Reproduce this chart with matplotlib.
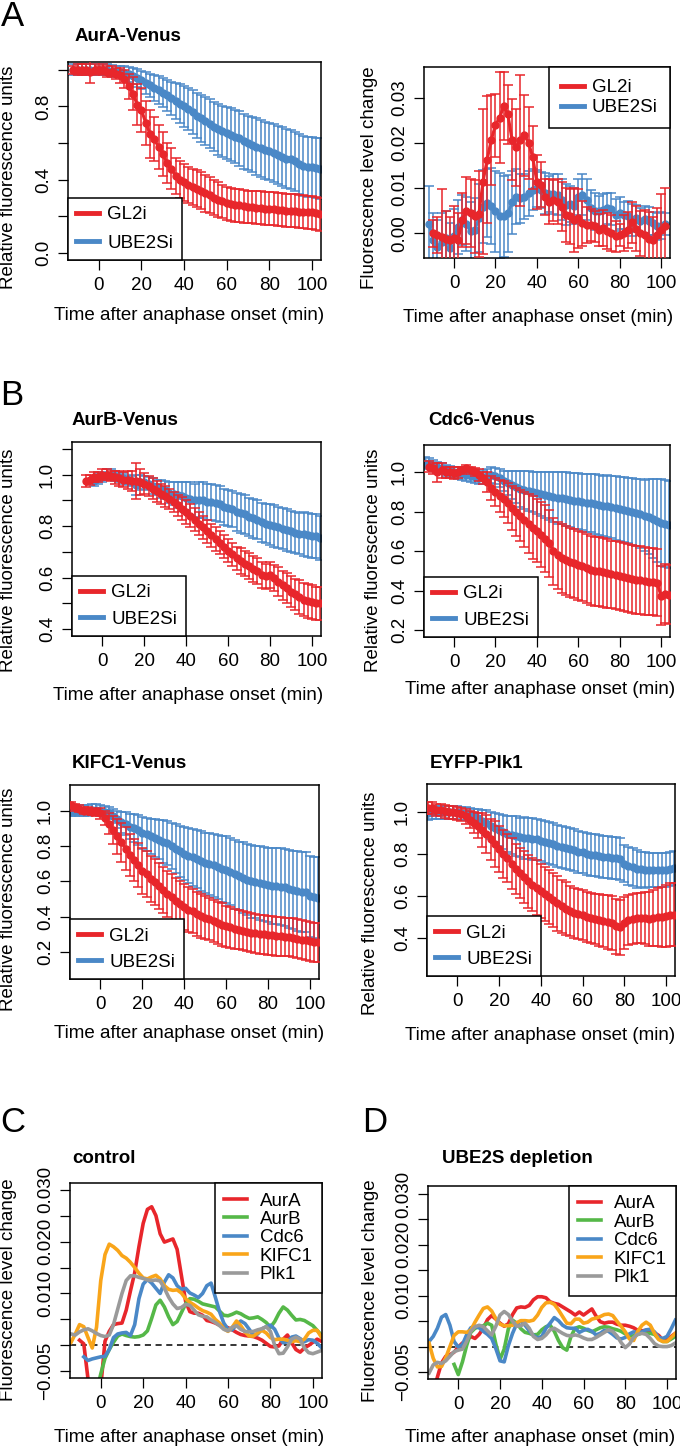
import numpy as np
import matplotlib
matplotlib.use('Agg')
import matplotlib.pyplot as plt
from matplotlib.lines import Line2D

plt.rcParams['font.family'] = ['Liberation Sans', 'DejaVu Sans']

RED = '#E8262B'
BLUE = '#4A88C7'
GREEN = '#55B848'
ORANGE = '#F9A51A'
GRAY = '#9A9A9A'

# ---- panel A, left: AurA-Venus (relative fluorescence) ----
t_aura = np.arange(-12, 106, 2)
aura_gl2 = [1.00, 1.00, 1.00, 1.00, 0.99, 1.00, 1.00, 1.00, 0.99, 0.99,
            0.98, 0.97, 0.95, 0.91, 0.87, 0.81, 0.78, 0.71, 0.65, 0.62,
            0.58, 0.54, 0.49, 0.46, 0.42, 0.40, 0.385, 0.37, 0.36, 0.35,
            0.34, 0.325, 0.315, 0.30, 0.29, 0.28, 0.27, 0.265, 0.26, 0.26,
            0.255, 0.25, 0.25, 0.245, 0.245, 0.24, 0.24, 0.24, 0.235, 0.235,
            0.23, 0.23, 0.23, 0.225, 0.225, 0.22, 0.22, 0.215, 0.21]
aura_gl2_err = [0.02, 0.03, 0.03, 0.03, 0.06, 0.03, 0.02, 0.03, 0.03, 0.03,
                0.03, 0.04, 0.05, 0.07, 0.09, 0.11, 0.12, 0.12, 0.13, 0.12,
                0.12, 0.12, 0.11, 0.11, 0.10, 0.10, 0.10, 0.10, 0.10, 0.10,
                0.10, 0.10, 0.10, 0.095, 0.095, 0.09, 0.09, 0.09, 0.09, 0.09,
                0.09, 0.09, 0.09, 0.09, 0.09, 0.09, 0.09, 0.09, 0.09, 0.09,
                0.09, 0.09, 0.09, 0.09, 0.09, 0.09, 0.09, 0.09, 0.09]
aura_ube = [1.00, 1.00, 1.00, 1.00, 1.00, 1.00, 1.00, 1.00, 1.00, 0.995,
            0.99, 0.99, 0.985, 0.975, 0.965, 0.955, 0.945, 0.93, 0.915, 0.90,
            0.89, 0.875, 0.86, 0.845, 0.83, 0.815, 0.80, 0.785, 0.77, 0.75,
            0.735, 0.72, 0.705, 0.69, 0.675, 0.665, 0.655, 0.645, 0.635, 0.625,
            0.61, 0.60, 0.59, 0.58, 0.57, 0.56, 0.555, 0.545, 0.535, 0.525,
            0.515, 0.51, 0.50, 0.485, 0.475, 0.47, 0.47, 0.465, 0.46]
aura_ube_err = [0.03, 0.03, 0.03, 0.03, 0.03, 0.03, 0.03, 0.03, 0.03, 0.03,
                0.03, 0.03, 0.035, 0.04, 0.045, 0.05, 0.05, 0.06, 0.065, 0.07,
                0.075, 0.08, 0.085, 0.09, 0.10, 0.105, 0.11, 0.115, 0.12, 0.125,
                0.13, 0.13, 0.135, 0.135, 0.14, 0.14, 0.14, 0.145, 0.145, 0.15,
                0.15, 0.15, 0.15, 0.155, 0.155, 0.155, 0.155, 0.16, 0.16, 0.16,
                0.16, 0.16, 0.16, 0.165, 0.165, 0.165, 0.165, 0.165, 0.165]

# ---- panel A, right: AurA fluorescence level change ----
t_chg_gl2 = np.arange(-10, 104, 2)
chg_gl2 = [0.0000, -0.0004, -0.0008, -0.0012, -0.0015, -0.0010, -0.0015, 0.0030, 0.0050, 0.0045,
           0.0037, 0.0042, 0.0114, 0.0163, 0.0207, 0.0239, 0.0256, 0.0281, 0.0263, 0.0207,
           0.0190, 0.0206, 0.0217, 0.0200, 0.0168, 0.0114, 0.0107, 0.0080, 0.0070, 0.0073,
           0.0070, 0.0059, 0.0040, 0.0037, 0.0029, 0.0033, 0.0022, 0.0018, 0.0018, 0.0015,
           0.0007, 0.0011, 0.0004, 0.0000, -0.0007, -0.0004, 0.0000, 0.0007, 0.0024, 0.0010,
           0.0000, -0.0004, -0.0013, -0.0015, -0.0004, 0.0007, 0.0015]
chg_gl2_err = [0.003, 0.004, 0.0105, 0.006, 0.005, 0.007, 0.006, 0.006, 0.0075, 0.0075,
               0.008, 0.0095, 0.016, 0.014, 0.010, 0.007, 0.010, 0.0075, 0.0065, 0.009,
               0.0085, 0.0145, 0.009, 0.008, 0.007, 0.006, 0.005, 0.004, 0.005, 0.0045,
               0.005, 0.0055, 0.006, 0.006, 0.007, 0.0065, 0.005, 0.004, 0.0035, 0.0035,
               0.0035, 0.004, 0.004, 0.004, 0.0035, 0.0025, 0.004, 0.004, 0.0045, 0.005,
               0.005, 0.0055, 0.006, 0.005, 0.006, 0.008, 0.0085]
t_chg_ube = np.arange(-12, 104, 2)
chg_ube = [0.0020, -0.0015, -0.0030, -0.0020, -0.0011, -0.0033, -0.0007, 0.0013, 0.0029, 0.0020,
           0.0004, 0.0007, 0.0033, 0.0059, 0.0066, 0.0060, 0.0048, 0.0038, 0.0037, 0.0044,
           0.0068, 0.0081, 0.0077, 0.0081, 0.0088, 0.0096, 0.0099, 0.0096, 0.0088, 0.0087,
           0.0087, 0.0085, 0.0074, 0.0063, 0.0065, 0.0060, 0.0081, 0.0085, 0.0074, 0.0055,
           0.0048, 0.0048, 0.0051, 0.0055, 0.0053, 0.0040, 0.0044, 0.0040, 0.0037, 0.0029,
           0.0033, 0.0026, 0.0031, 0.0027, 0.0022, 0.0015, 0.0016, 0.0020]
chg_ube_err = [0.0085, 0.006, 0.006, 0.0065, 0.006, 0.0055, 0.006, 0.006, 0.0055, 0.006,
               0.0065, 0.007, 0.0075, 0.008, 0.0075, 0.0085, 0.009, 0.0095, 0.009, 0.0085,
               0.007, 0.006, 0.0055, 0.005, 0.005, 0.0045, 0.004, 0.004, 0.0045, 0.004,
               0.0045, 0.0045, 0.0045, 0.0045, 0.004, 0.004, 0.004, 0.0045, 0.0045, 0.004,
               0.004, 0.0035, 0.0035, 0.0035, 0.0035, 0.0035, 0.0035, 0.003, 0.0035, 0.0035,
               0.003, 0.003, 0.003, 0.003, 0.0025, 0.003, 0.003, 0.0025]

# ---- panel B: AurB-Venus ----
t_aurb_gl2 = np.arange(-8, 106, 2)
aurb_gl2 = [0.975, 0.98, 0.99, 0.99, 1.0, 1.0, 0.995, 0.99, 0.985, 0.98,
            0.98, 0.975, 0.975, 0.97, 0.965, 0.955, 0.945, 0.935, 0.925, 0.915,
            0.905, 0.893, 0.88, 0.868, 0.855, 0.84, 0.825, 0.81, 0.795, 0.78,
            0.765, 0.75, 0.735, 0.72, 0.705, 0.69, 0.675, 0.665, 0.655, 0.645,
            0.635, 0.625, 0.61, 0.605, 0.61, 0.60, 0.585, 0.57, 0.56, 0.545,
            0.535, 0.525, 0.515, 0.51, 0.505, 0.50, 0.50]
aurb_gl2_err = [0.025, 0.02, 0.02, 0.02, 0.02, 0.02, 0.02, 0.025, 0.03, 0.03,
                0.035, 0.04, 0.07, 0.05, 0.04, 0.04, 0.04, 0.04, 0.04, 0.04,
                0.04, 0.04, 0.04, 0.045, 0.045, 0.045, 0.045, 0.045, 0.045, 0.045,
                0.045, 0.045, 0.045, 0.045, 0.045, 0.045, 0.045, 0.05, 0.05, 0.05,
                0.05, 0.05, 0.05, 0.05, 0.05, 0.05, 0.055, 0.055, 0.06, 0.06,
                0.06, 0.065, 0.065, 0.065, 0.065, 0.065, 0.065]
t_aurb_ube = np.arange(-4, 106, 2)
aurb_ube = [0.975, 0.985, 0.99, 1.0, 1.0, 0.995, 0.99, 0.985, 0.98, 0.975,
            0.96, 0.97, 0.97, 0.965, 0.955, 0.95, 0.945, 0.94, 0.93, 0.925,
            0.92, 0.915, 0.91, 0.905, 0.90, 0.90, 0.90, 0.895, 0.895, 0.89,
            0.885, 0.875, 0.87, 0.865, 0.855, 0.85, 0.845, 0.835, 0.83, 0.825,
            0.815, 0.81, 0.805, 0.80, 0.795, 0.79, 0.785, 0.78, 0.775, 0.77,
            0.77, 0.765, 0.76, 0.76, 0.755]
aurb_ube_err = [0.02, 0.02, 0.02, 0.02, 0.02, 0.02, 0.02, 0.02, 0.02, 0.02,
                0.04, 0.03, 0.025, 0.025, 0.03, 0.03, 0.035, 0.035, 0.04, 0.045,
                0.05, 0.055, 0.06, 0.065, 0.065, 0.07, 0.07, 0.07, 0.07, 0.07,
                0.07, 0.07, 0.07, 0.07, 0.075, 0.075, 0.075, 0.075, 0.075, 0.075,
                0.075, 0.075, 0.08, 0.08, 0.08, 0.08, 0.08, 0.08, 0.08, 0.08,
                0.085, 0.085, 0.085, 0.085, 0.085]

# ---- panel B: Cdc6-Venus ----
t_cdc6_gl2 = np.arange(-12, 106, 2)
cdc6_gl2 = [1.03, 1.02, 1.00, 1.01, 1.00, 1.00, 0.995, 1.00, 1.01, 1.02,
            1.01, 1.00, 0.985, 0.97, 0.95, 0.92, 0.90, 0.88, 0.865, 0.845,
            0.82, 0.80, 0.78, 0.76, 0.74, 0.72, 0.705, 0.685, 0.665, 0.64,
            0.60, 0.58, 0.565, 0.555, 0.545, 0.54, 0.53, 0.525, 0.515, 0.505,
            0.50, 0.50, 0.495, 0.49, 0.485, 0.48, 0.475, 0.47, 0.465, 0.46,
            0.455, 0.455, 0.45, 0.445, 0.445, 0.44, 0.375, 0.385, 0.38]
cdc6_gl2_err = [0.03, 0.03, 0.05, 0.04, 0.03, 0.03, 0.03, 0.03, 0.02, 0.02,
                0.02, 0.02, 0.03, 0.03, 0.05, 0.06, 0.07, 0.08, 0.09, 0.10,
                0.11, 0.12, 0.13, 0.14, 0.15, 0.16, 0.16, 0.165, 0.17, 0.17,
                0.17, 0.17, 0.175, 0.175, 0.175, 0.175, 0.175, 0.175, 0.175, 0.175,
                0.175, 0.175, 0.175, 0.175, 0.17, 0.17, 0.17, 0.17, 0.17, 0.17,
                0.17, 0.17, 0.17, 0.17, 0.17, 0.17, 0.15, 0.15, 0.15]
t_cdc6_ube = np.arange(-14, 106, 2)
cdc6_ube = [1.05, 1.045, 1.035, 1.025, 1.02, 1.01, 1.005, 1.0, 0.995, 0.99,
            0.985, 0.98, 0.975, 0.97, 0.975, 0.98, 0.985, 0.98, 0.97, 0.955,
            0.945, 0.935, 0.925, 0.915, 0.91, 0.905, 0.90, 0.895, 0.89, 0.885,
            0.88, 0.875, 0.87, 0.87, 0.865, 0.86, 0.855, 0.855, 0.85, 0.845,
            0.845, 0.84, 0.835, 0.83, 0.83, 0.825, 0.82, 0.815, 0.81, 0.805,
            0.80, 0.795, 0.79, 0.78, 0.775, 0.765, 0.755, 0.745, 0.74, 0.735]
cdc6_ube_err = [0.03, 0.03, 0.03, 0.03, 0.03, 0.03, 0.03, 0.03, 0.03, 0.03,
                0.03, 0.03, 0.03, 0.03, 0.035, 0.035, 0.04, 0.04, 0.045, 0.05,
                0.06, 0.07, 0.08, 0.09, 0.095, 0.10, 0.10, 0.105, 0.11, 0.115,
                0.12, 0.125, 0.13, 0.13, 0.135, 0.135, 0.14, 0.14, 0.14, 0.145,
                0.145, 0.15, 0.15, 0.15, 0.155, 0.155, 0.16, 0.16, 0.165, 0.165,
                0.17, 0.17, 0.175, 0.18, 0.19, 0.20, 0.21, 0.22, 0.22, 0.22]

# ---- panel B: KIFC1-Venus ----
t_kifc1 = np.arange(-14, 106, 2)
kifc1_gl2 = [1.03, 1.02, 1.01, 1.0, 1.0, 0.995, 0.99, 0.985, 0.96, 0.925,
             0.89, 0.855, 0.82, 0.785, 0.75, 0.72, 0.69, 0.66, 0.64, 0.615,
             0.595, 0.575, 0.55, 0.53, 0.51, 0.49, 0.47, 0.455, 0.44, 0.43,
             0.415, 0.405, 0.395, 0.385, 0.375, 0.365, 0.355, 0.345, 0.34, 0.33,
             0.325, 0.32, 0.315, 0.31, 0.305, 0.30, 0.30, 0.295, 0.295, 0.29,
             0.29, 0.285, 0.285, 0.28, 0.275, 0.27, 0.265, 0.26, 0.255, 0.255]
kifc1_gl2_err = [0.02, 0.02, 0.02, 0.02, 0.02, 0.02, 0.02, 0.03, 0.04, 0.06,
                 0.08, 0.10, 0.11, 0.12, 0.12, 0.12, 0.125, 0.13, 0.13, 0.13,
                 0.13, 0.13, 0.13, 0.13, 0.13, 0.13, 0.13, 0.13, 0.125, 0.125,
                 0.125, 0.125, 0.12, 0.12, 0.12, 0.12, 0.12, 0.115, 0.115, 0.115,
                 0.11, 0.11, 0.11, 0.11, 0.11, 0.11, 0.11, 0.11, 0.11, 0.11,
                 0.11, 0.11, 0.11, 0.11, 0.11, 0.11, 0.11, 0.11, 0.11, 0.11]
kifc1_ube = [1.0, 1.0, 1.0, 1.0, 1.0, 1.005, 1.005, 1.0, 0.995, 0.985,
             0.97, 0.95, 0.935, 0.925, 0.91, 0.90, 0.89, 0.875, 0.865, 0.855,
             0.845, 0.835, 0.825, 0.815, 0.80, 0.785, 0.77, 0.755, 0.745, 0.735,
             0.725, 0.715, 0.705, 0.70, 0.69, 0.68, 0.67, 0.665, 0.655, 0.64,
             0.63, 0.62, 0.61, 0.60, 0.595, 0.59, 0.585, 0.58, 0.575, 0.575,
             0.57, 0.565, 0.555, 0.55, 0.545, 0.54, 0.54, 0.515, 0.51, 0.505]
kifc1_ube_err = [0.03, 0.03, 0.03, 0.03, 0.03, 0.03, 0.03, 0.03, 0.03, 0.035,
                 0.04, 0.05, 0.06, 0.065, 0.07, 0.08, 0.085, 0.09, 0.095, 0.10,
                 0.105, 0.11, 0.12, 0.125, 0.13, 0.14, 0.145, 0.15, 0.155, 0.16,
                 0.165, 0.17, 0.17, 0.175, 0.18, 0.18, 0.185, 0.19, 0.19, 0.195,
                 0.195, 0.20, 0.20, 0.205, 0.205, 0.21, 0.21, 0.21, 0.215, 0.215,
                 0.22, 0.22, 0.22, 0.22, 0.225, 0.225, 0.225, 0.23, 0.23, 0.23]

# ---- panel B: EYFP-Plk1 ----
t_plk1 = np.arange(-14, 106, 2)
plk1_gl2 = [1.02, 1.02, 1.01, 1.01, 1.005, 1.0, 1.0, 0.995, 0.99, 0.98,
            0.965, 0.95, 0.935, 0.915, 0.895, 0.87, 0.85, 0.825, 0.80, 0.78,
            0.755, 0.73, 0.71, 0.69, 0.67, 0.655, 0.64, 0.625, 0.61, 0.595,
            0.58, 0.565, 0.55, 0.54, 0.53, 0.52, 0.515, 0.51, 0.50, 0.495,
            0.49, 0.485, 0.48, 0.475, 0.47, 0.455, 0.45, 0.47, 0.485, 0.49,
            0.495, 0.495, 0.495, 0.49, 0.495, 0.50, 0.50, 0.505, 0.51, 0.51]
plk1_gl2_err = [0.03, 0.03, 0.03, 0.03, 0.03, 0.03, 0.03, 0.03, 0.03, 0.035,
                0.04, 0.05, 0.06, 0.08, 0.09, 0.10, 0.11, 0.11, 0.115, 0.115,
                0.12, 0.12, 0.12, 0.125, 0.125, 0.125, 0.13, 0.13, 0.13, 0.13,
                0.13, 0.13, 0.125, 0.125, 0.12, 0.12, 0.12, 0.12, 0.12, 0.12,
                0.12, 0.125, 0.125, 0.13, 0.13, 0.13, 0.13, 0.125, 0.12, 0.12,
                0.12, 0.12, 0.125, 0.13, 0.135, 0.14, 0.145, 0.15, 0.15, 0.15]
plk1_ube = [0.995, 1.0, 1.0, 1.0, 1.0, 1.0, 1.0, 1.0, 0.995, 0.995,
            0.99, 0.985, 0.975, 0.96, 0.95, 0.935, 0.925, 0.915, 0.905, 0.895,
            0.89, 0.885, 0.88, 0.877, 0.875, 0.872, 0.87, 0.865, 0.86, 0.855,
            0.85, 0.84, 0.835, 0.83, 0.825, 0.818, 0.812, 0.808, 0.80, 0.797,
            0.795, 0.79, 0.788, 0.785, 0.782, 0.78, 0.778, 0.755, 0.745, 0.74,
            0.73, 0.727, 0.725, 0.724, 0.724, 0.724, 0.724, 0.725, 0.73, 0.735]
plk1_ube_err = [0.03, 0.03, 0.03, 0.03, 0.03, 0.03, 0.03, 0.03, 0.03, 0.03,
                0.03, 0.03, 0.04, 0.05, 0.06, 0.065, 0.07, 0.075, 0.08, 0.085,
                0.09, 0.095, 0.095, 0.10, 0.10, 0.10, 0.10, 0.10, 0.10, 0.10,
                0.10, 0.10, 0.10, 0.10, 0.10, 0.10, 0.10, 0.10, 0.10, 0.10,
                0.10, 0.10, 0.10, 0.10, 0.10, 0.10, 0.10, 0.09, 0.09, 0.09,
                0.09, 0.085, 0.085, 0.08, 0.08, 0.08, 0.08, 0.08, 0.08, 0.08]

# ---- panel C: control, fluorescence level change ----
t_c_aura = np.arange(-10, 106, 2)
c_aura = [0.0010, 0.0003, -0.0065, -0.0120, -0.0140, -0.0080, 0.0008, 0.0027, 0.0040, 0.0042,
          0.0043, 0.0068, 0.0105, 0.0140, 0.0190, 0.0235, 0.0262, 0.0267, 0.0250, 0.0215,
          0.0199, 0.0202, 0.0205, 0.0185, 0.0135, 0.0085, 0.0065, 0.0062, 0.0062, 0.0058,
          0.0048, 0.0046, 0.0043, 0.0039, 0.0037, 0.0034, 0.0030, 0.0025, 0.0021, 0.0019,
          0.0018, 0.0017, 0.0014, 0.0010, 0.0004, -0.0002, -0.0003, -0.0001, 0.0012, 0.0020,
          0.0005, -0.0008, -0.0013, -0.0005, 0.0000, 0.0006, 0.0012, 0.0008]
t_c_aurb = np.arange(-2, 106, 2)
c_aurb = [-0.0090, -0.0055, -0.0025, -0.0008, 0.0006, 0.0018, 0.0022, 0.0019, 0.0017, 0.0016,
          0.0017, 0.0020, 0.0028, 0.0052, 0.0078, 0.0087, 0.0074, 0.0055, 0.0040, 0.0046,
          0.0063, 0.0080, 0.0090, 0.0089, 0.0085, 0.0080, 0.0078, 0.0076, 0.0074, 0.0066,
          0.0058, 0.0057, 0.0060, 0.0064, 0.0061, 0.0056, 0.0052, 0.0053, 0.0055, 0.0050,
          0.0044, 0.0035, 0.0046, 0.0062, 0.0074, 0.0068, 0.0058, 0.0049, 0.0050, 0.0048,
          0.0043, 0.0038, 0.0029, 0.0020]
t_c_cdc6 = np.arange(-8, 106, 2)
c_cdc6 = [-0.0022, -0.0029, -0.0026, -0.0024, -0.0022, -0.0021, -0.0008, 0.0015, 0.0022, 0.0024,
          0.0025, 0.0019, 0.0040, 0.0090, 0.0118, 0.0127, 0.0120, 0.0110, 0.0100, 0.0122,
          0.0136, 0.0130, 0.0115, 0.0108, 0.0110, 0.0101, 0.0097, 0.0092, 0.0100, 0.0115,
          0.0120, 0.0093, 0.0065, 0.0043, 0.0031, 0.0030, 0.0040, 0.0047, 0.0042, 0.0031,
          0.0019, 0.0022, 0.0032, 0.0036, 0.0039, 0.0031, 0.0014, 0.0005, 0.0007, 0.0016,
          0.0018, 0.0013, 0.0007, 0.0011, 0.0010, 0.0004, -0.0004]
t_c_all = np.arange(-14, 106, 2)
c_kifc1 = [0.0006, 0.0022, 0.0040, 0.0036, 0.0015, -0.0005, 0.0035, 0.0125, 0.0175, 0.0195,
           0.0190, 0.0183, 0.0173, 0.0168, 0.0160, 0.0150, 0.0139, 0.0130, 0.0128, 0.0132,
           0.0135, 0.0128, 0.0115, 0.0108, 0.0106, 0.0107, 0.0101, 0.0090, 0.0083, 0.0078,
           0.0072, 0.0067, 0.0064, 0.0060, 0.0050, 0.0043, 0.0032, 0.0027, 0.0035, 0.0047,
           0.0038, 0.0026, 0.0018, 0.0018, 0.0024, 0.0029, 0.0024, 0.0015, 0.0011, 0.0012,
           0.0012, 0.0010, 0.0007, 0.0009, 0.0007, 0.0012, 0.0024, 0.0029, 0.0029, 0.0016]
c_plk1 = [0.0022, 0.0020, 0.0026, 0.0030, 0.0032, 0.0028, 0.0023, 0.0019, 0.0017, 0.0020,
          0.0040, 0.0070, 0.0100, 0.0125, 0.0134, 0.0134, 0.0131, 0.0129, 0.0126, 0.0125,
          0.0126, 0.0124, 0.0110, 0.0093, 0.0080, 0.0071, 0.0073, 0.0079, 0.0077, 0.0068,
          0.0059, 0.0056, 0.0055, 0.0049, 0.0044, 0.0038, 0.0031, 0.0028, 0.0035, 0.0038,
          0.0031, 0.0027, 0.0026, 0.0027, 0.0030, 0.0032, 0.0036, 0.0027, 0.0000, -0.0016,
          -0.0015, -0.0003, 0.0012, 0.0016, 0.0012, -0.0005, -0.0014, -0.0016, -0.0013, -0.0010]

# ---- panel D: UBE2S depletion, fluorescence level change ----
t_d_aura = np.arange(-12, 106, 2)
d_aura = [-0.0090, -0.0060, -0.0032, -0.0019, -0.0016, -0.0011, -0.0001, 0.0007, 0.0012, 0.0020,
          0.0016, 0.0024, 0.0036, 0.0053, 0.0061, 0.0054, 0.0046, 0.0040, 0.0045, 0.0063,
          0.0076, 0.0078, 0.0077, 0.0081, 0.0092, 0.0098, 0.0098, 0.0096, 0.0088, 0.0085,
          0.0083, 0.0078, 0.0073, 0.0068, 0.0062, 0.0068, 0.0062, 0.0068, 0.0074, 0.0060,
          0.0049, 0.0046, 0.0048, 0.0048, 0.0044, 0.0042, 0.0042, 0.0040, 0.0037, 0.0032,
          0.0031, 0.0032, 0.0029, 0.0027, 0.0022, 0.0013, 0.0014, 0.0020, 0.0026]
t_d_aurb = np.arange(-2, 106, 2)
d_aurb = [-0.0035, -0.0055, -0.0030, 0.0002, 0.0028, 0.0036, 0.0039, 0.0041, 0.0046, 0.0042,
          0.0005, -0.0025, -0.0005, 0.0035, 0.0052, 0.0046, 0.0035, 0.0028, 0.0026, 0.0023,
          0.0024, 0.0033, 0.0039, 0.0042, 0.0030, 0.0012, -0.0002, -0.0007, 0.0020, 0.0036,
          0.0039, 0.0036, 0.0032, 0.0029, 0.0033, 0.0037, 0.0039, 0.0038, 0.0035, 0.0033,
          0.0030, 0.0025, 0.0021, 0.0021, 0.0024, 0.0027, 0.0026, 0.0026, 0.0024, 0.0015,
          0.0010, 0.0010, 0.0015, 0.0020]
t_d_all = np.arange(-14, 106, 2)
d_cdc6 = [0.0010, 0.0020, 0.0036, 0.0058, 0.0063, 0.0042, 0.0010, -0.0001, 0.0004, 0.0023,
          0.0037, 0.0040, 0.0037, 0.0030, 0.0024, 0.0016, -0.0004, -0.0028, -0.0030, 0.0002,
          0.0026, 0.0045, 0.0050, 0.0042, 0.0031, 0.0022, 0.0017, 0.0020, 0.0036, 0.0046,
          0.0057, 0.0051, 0.0042, 0.0037, 0.0036, 0.0036, 0.0028, 0.0032, 0.0034, 0.0030,
          0.0023, 0.0026, 0.0032, 0.0030, 0.0024, 0.0017, 0.0015, 0.0018, 0.0025, 0.0029,
          0.0027, 0.0029, 0.0033, 0.0034, 0.0029, 0.0018, 0.0016, 0.0020, 0.0035, 0.0052]
d_kifc1 = [0.0007, -0.0023, -0.0040, -0.0039, -0.0022, 0.0000, 0.0022, 0.0029, 0.0029, 0.0028,
           0.0032, 0.0048, 0.0062, 0.0075, 0.0078, 0.0070, 0.0055, 0.0044, 0.0041, 0.0041,
           0.0042, 0.0047, 0.0051, 0.0051, 0.0050, 0.0052, 0.0062, 0.0077, 0.0086, 0.0087,
           0.0083, 0.0072, 0.0059, 0.0046, 0.0045, 0.0054, 0.0054, 0.0046, 0.0048, 0.0054,
           0.0056, 0.0059, 0.0063, 0.0064, 0.0061, 0.0050, 0.0040, 0.0029, 0.0015, 0.0012,
           0.0030, 0.0042, 0.0048, 0.0042, 0.0026, 0.0014, 0.0010, 0.0010, 0.0018, 0.0026]
d_plk1 = [-0.0052, -0.0036, -0.0031, -0.0033, -0.0028, -0.0019, -0.0010, -0.0007, -0.0005, 0.0010,
          0.0030, 0.0039, 0.0042, 0.0039, 0.0031, 0.0023, 0.0040, 0.0062, 0.0069, 0.0063,
          0.0050, 0.0040, 0.0041, 0.0046, 0.0036, 0.0020, 0.0014, 0.0016, 0.0023, 0.0033,
          0.0036, 0.0031, 0.0026, 0.0022, 0.0021, 0.0023, 0.0021, 0.0017, 0.0014, 0.0014,
          0.0018, 0.0023, 0.0028, 0.0033, 0.0030, 0.0021, 0.0008, -0.0002, 0.0005, 0.0018,
          0.0024, 0.0026, 0.0024, 0.0016, 0.0006, 0.0001, 0.0000, 0.0000, 0.0002, 0.0007]

conditions = ['GL2i', 'UBE2Si']
markers_c = ['AurA', 'AurB', 'Cdc6', 'KIFC1', 'Plk1']
xticks = [0, 20, 40, 60, 80, 100]
xlab = 'Time after anaphase onset (min)'
FS = 13.5

W, H = 680, 1447
fig = plt.figure(figsize=(W / 100, H / 100), dpi=100)
fig.patch.set_facecolor('white')


def px_axes(l, t, r, b):
    return fig.add_axes([l / W, 1 - b / H, (r - l) / W, (b - t) / H])


def px_text(x, y, s, **kw):
    fig.text(x / W, 1 - y / H, s, **kw)


def style(ax, ylim, yticks, ylabels):
    ax.set_xlim(-14.5, 104.3)
    ax.set_ylim(*ylim)
    ax.set_xticks(xticks)
    ax.set_xticklabels([str(v) for v in xticks])
    ax.set_yticks(yticks)
    ax.set_yticklabels(ylabels, rotation=90, va='center')
    ax.tick_params(axis='both', direction='out', length=7, width=0.9,
                   labelsize=FS, color='black')
    ax.tick_params(axis='x', pad=5.5)
    ax.tick_params(axis='y', pad=4.5)
    for sp in ax.spines.values():
        sp.set_linewidth(1.1)


def err_series(ax, t, m, e, color, z):
    ax.errorbar(t, m, yerr=e, color=color, lw=2.2, marker='o', ms=5,
                elinewidth=1.1, capsize=3.5, capthick=1.1, zorder=z)


def cond_legend(ax, loc, spacing, bpad=0.45):
    handles = [Line2D([], [], color=RED, lw=3.5), Line2D([], [], color=BLUE, lw=3.5)]
    leg = ax.legend(handles, conditions, loc=loc, fontsize=FS, frameon=True,
                    fancybox=False, framealpha=1, edgecolor='black',
                    borderaxespad=0, borderpad=bpad, labelspacing=spacing,
                    handlelength=1.2, handletextpad=0.45)
    leg.get_frame().set_linewidth(1.1)
    leg.set_zorder(10)


def rel_panel(rect, t1, m1, e1, t2, m2, e2, ylim, yticks, ylabels, spacing):
    ax = px_axes(*rect)
    err_series(ax, t2, m2, e2, BLUE, 2)
    err_series(ax, t1, m1, e1, RED, 3)
    style(ax, ylim, yticks, ylabels)
    cond_legend(ax, 'lower left', spacing)
    return ax


def change_panel(rect, series, ylim):
    ax = px_axes(*rect)
    ax.axhline(0, color='black', lw=1.1, ls=(0, (4, 3)), zorder=1)
    for t, v, c in series:
        ax.plot(t, v, color=c, lw=2.6, solid_joinstyle='round', zorder=2)
    yt = [-0.005, 0.0, 0.005, 0.010, 0.015, 0.020, 0.025, 0.030]
    yl = ['\u22120.005', '', '', '0.010', '', '0.020', '', '0.030']
    style(ax, ylim, yt, yl)
    handles = [Line2D([], [], color=c, lw=2.6) for _, _, c in series]
    leg = ax.legend(handles, markers_c, loc='upper right', fontsize=FS, frameon=True,
                    fancybox=False, framealpha=1, edgecolor='black',
                    borderaxespad=0, borderpad=0.5, labelspacing=0.07,
                    handlelength=1.2, handletextpad=0.7)
    leg.get_frame().set_linewidth(1.1)
    return ax


# panel A
rel_panel((68, 62, 321, 260), t_aura, aura_gl2, aura_gl2_err, t_aura, aura_ube, aura_ube_err,
          (-0.04, 1.043), [0, 0.2, 0.4, 0.6, 0.8, 1.0], ['0.0', '', '0.4', '', '0.8', ''], 0.6)

ax = px_axes(424, 67, 670, 258)
err_series(ax, t_chg_ube, chg_ube, chg_ube_err, BLUE, 2)
err_series(ax, t_chg_gl2, chg_gl2, chg_gl2_err, RED, 3)
style(ax, (-0.0055, 0.0368), [0, 0.01, 0.02, 0.03], ['0.00', '0.01', '0.02', '0.03'])
cond_legend(ax, 'upper right', 0.15, bpad=0.65)

# panel B
rel_panel((72, 442, 321, 636), t_aurb_gl2, aurb_gl2, aurb_gl2_err, t_aurb_ube, aurb_ube, aurb_ube_err,
          (0.374, 1.126), [0.4, 0.5, 0.6, 0.7, 0.8, 0.9, 1.0, 1.1],
          ['0.4', '', '0.6', '', '0.8', '', '1.0', ''], 0.5)
rel_panel((424, 445, 670, 637), t_cdc6_gl2, cdc6_gl2, cdc6_gl2_err, t_cdc6_ube, cdc6_ube, cdc6_ube_err,
          (0.166, 1.139), [0.2, 0.4, 0.6, 0.8, 1.0], ['0.2', '0.4', '0.6', '0.8', '1.0'], 0.5)
rel_panel((70, 785, 319, 979), t_kifc1, kifc1_gl2, kifc1_gl2_err, t_kifc1, kifc1_ube, kifc1_ube_err,
          (0.047, 1.145), [0.2, 0.4, 0.6, 0.8, 1.0], ['0.2', '0.4', '0.6', '0.8', '1.0'], 0.45)
rel_panel((427, 784, 675, 976), t_plk1, plk1_gl2, plk1_gl2_err, t_plk1, plk1_ube, plk1_ube_err,
          (0.218, 1.135), [0.4, 0.6, 0.8, 1.0], ['0.4', '0.6', '0.8', '1.0'], 0.45)

# panels C and D
change_panel((70, 1183, 322, 1378),
             [(t_c_aura, c_aura, RED), (t_c_aurb, c_aurb, GREEN), (t_c_cdc6, c_cdc6, BLUE),
              (t_c_all, c_kifc1, ORANGE), (t_c_all, c_plk1, GRAY)],
             (-0.00628, 0.03128))
change_panel((428, 1186, 676, 1379),
             [(t_d_aura, d_aura, RED), (t_d_aurb, d_aurb, GREEN), (t_d_all, d_cdc6, BLUE),
              (t_d_all, d_kifc1, ORANGE), (t_d_all, d_plk1, GRAY)],
             (-0.00637, 0.03157))

# titles
for x, y, s in [(75, 41, 'AurA-Venus'), (72, 425, 'AurB-Venus'), (428, 425, 'Cdc6-Venus'),
                (72, 768, 'KIFC1-Venus'), (430, 768, 'EYFP-Plk1'), (72, 1163, 'control'),
                (442, 1163, 'UBE2S depletion')]:
    px_text(x, y, s, fontsize=FS, fontweight='bold', ha='left', va='baseline')

# panel letters
for x, y, s in [(1, 26, 'A'), (0, 405, 'B'), (0, 1132, 'C'), (362, 1132, 'D')]:
    px_text(x, y, s, fontsize=25, ha='left', va='baseline')

# axis labels
for x, y in [(189, 316), (538, 318), (188, 695), (540, 690), (189, 1033), (540, 1035),
             (189, 1437), (540, 1437)]:
    px_text(x, y, xlab, fontsize=FS, ha='center', va='center')

for x, y, s in [(9, 177, 'Relative fluorescence units'), (370, 178, 'Fluorescence level change'),
                (9, 560, 'Relative fluorescence units'), (373, 560, 'Relative fluorescence units'),
                (9, 899, 'Relative fluorescence units'), (371, 903, 'Relative fluorescence units'),
                (9, 1290, 'Fluorescence level change'), (371, 1291, 'Fluorescence level change')]:
    px_text(x, y, s, fontsize=FS, ha='center', va='center', rotation=90)

fig.savefig('out.png', dpi=100, facecolor='white')
